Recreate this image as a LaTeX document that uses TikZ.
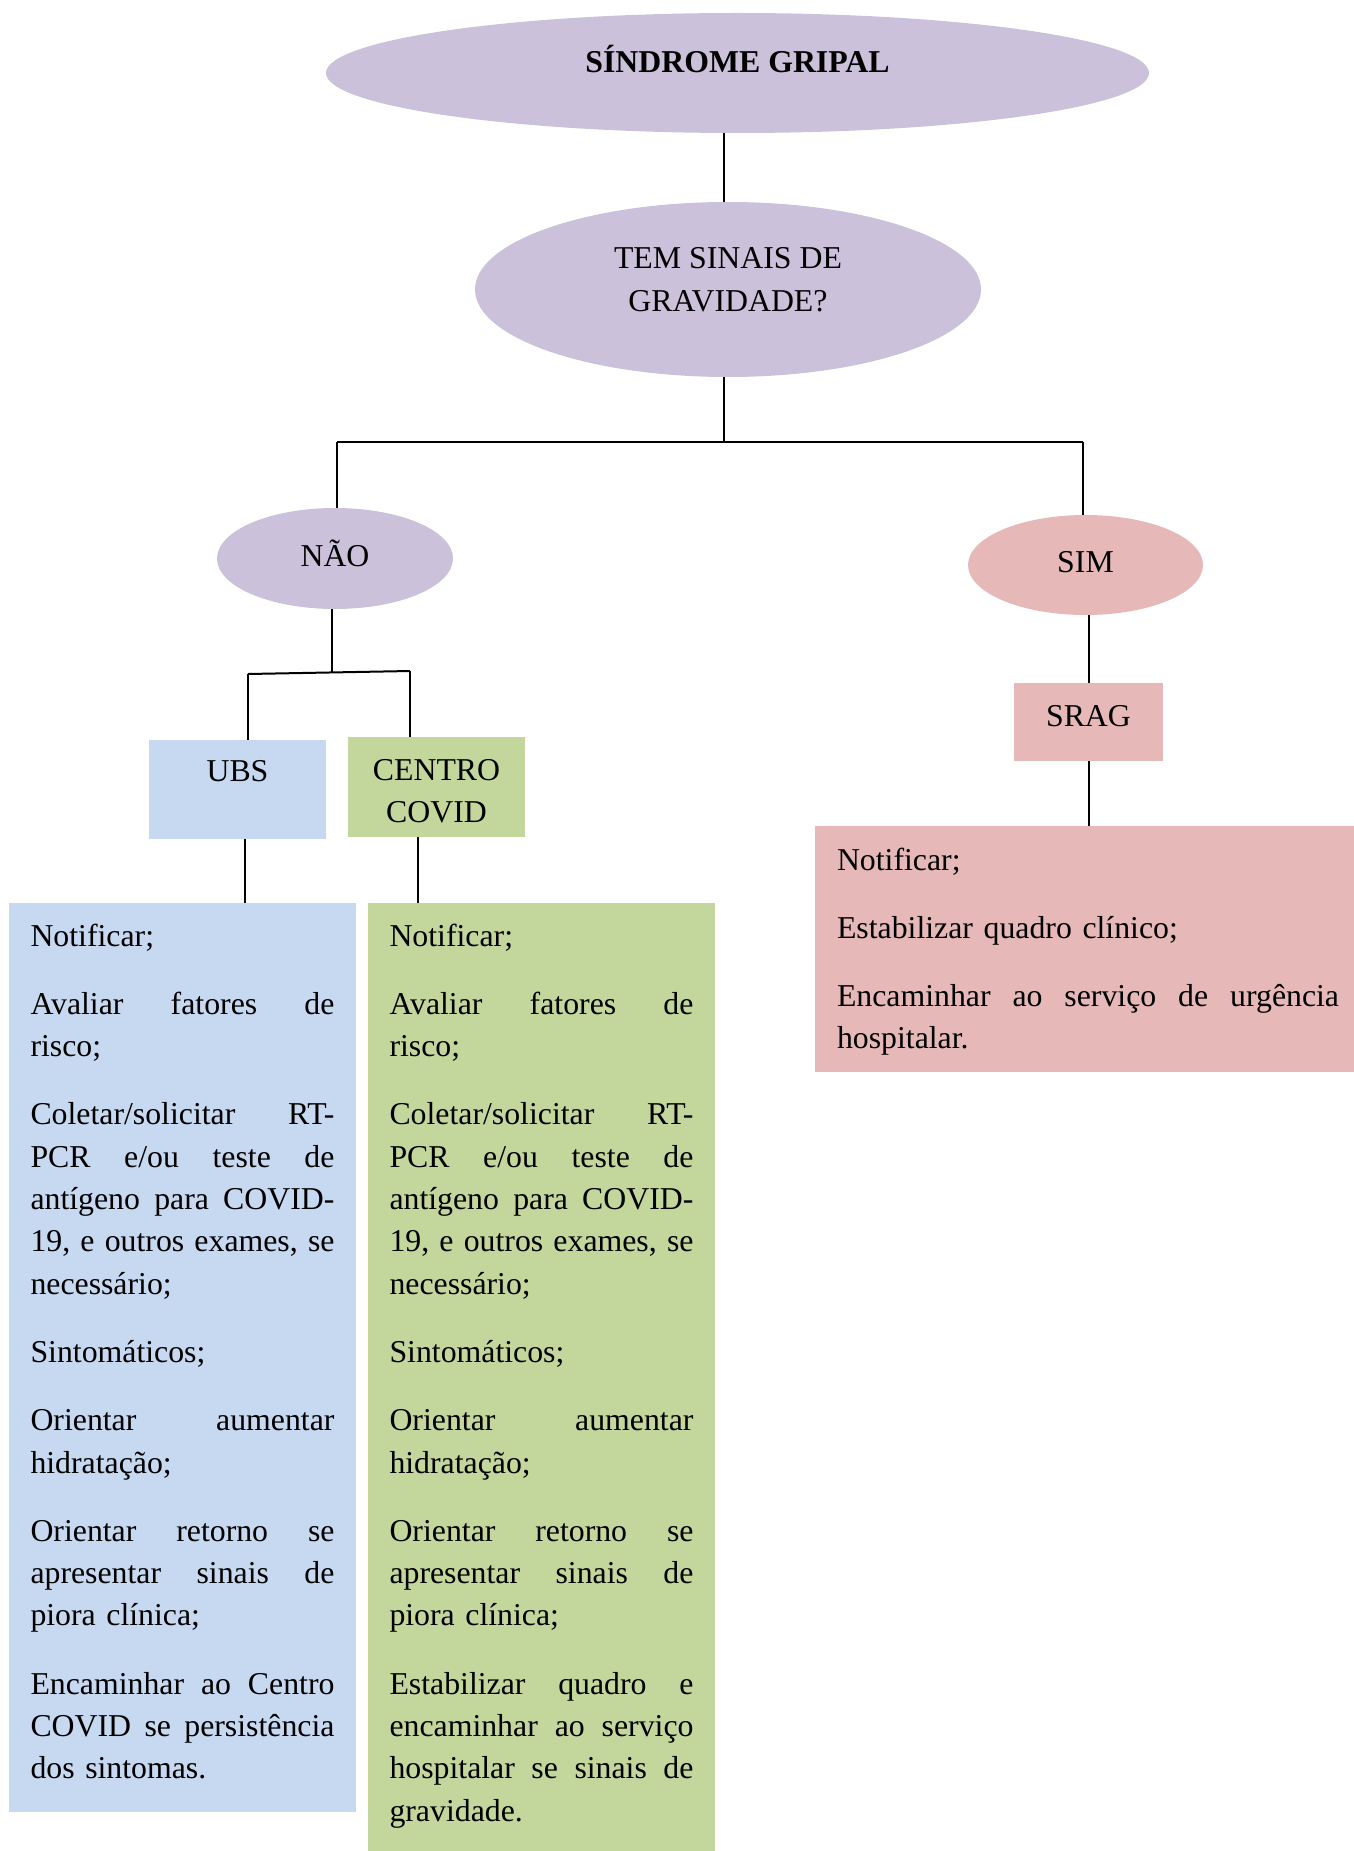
\documentclass[tikz,border=0pt]{standalone}
\usepackage{fontspec}
\setmainfont{Liberation Serif}
\usetikzlibrary{shapes.geometric}
\definecolor{lil}{HTML}{CCC1DA}
\definecolor{rosa}{HTML}{E6B9B8}
\definecolor{azul}{HTML}{C6D9F1}
\definecolor{verde}{HTML}{C3D69B}
\newcommand{\bodyfont}{\fontsize{31.8pt}{42.3pt}\selectfont}
\newlength{\colw}
\setlength{\colw}{304pt}
\newcommand{\jl}[1]{\leavevmode\hbox to\colw{#1}}
\begin{document}
\begin{tikzpicture}[x=1pt,y=-1pt,
  every node/.style={font=\bodyfont, inner sep=0pt, outer sep=0pt},
  elli/.style={ellipse, fill=lil},
  conn/.style={line width=2pt, black},
  bodybox/.style={rectangle, text width=#1, text height=0pt}]
\useasboundingbox (0,0) rectangle (1353,1851);

% shapes
\node[elli, minimum width=823pt, minimum height=120pt, text height=0pt, text depth=0pt, font=\bodyfont\bfseries] (sg) at (737.5,73) {SÍNDROME GRIPAL};
\node[elli, minimum width=506pt, minimum height=175pt, text height=0pt, text depth=41pt] (q) at (728,289.5) {\begin{tabular}[t]{@{}c@{}}TEM SINAIS DE\\GRAVIDADE?\end{tabular}};
\node[elli, minimum width=236pt, minimum height=101pt, text height=15pt, text depth=0pt] (nao) at (335,558.5) {NÃO};
\node[elli, fill=rosa, minimum width=235pt, minimum height=100pt, text height=14pt, text depth=0pt] (sim) at (1085.5,565) {SIM};
\node[fill=azul, minimum width=177pt, minimum height=99pt, text height=0pt, text depth=17pt] (ubs) at (237.5,789.5) {UBS};
\node[fill=verde, minimum width=177pt, minimum height=100pt, text height=0pt, text depth=14pt] (cc) at (436.5,787) {\begin{tabular}[t]{@{}c@{}}CENTRO\\COVID\end{tabular}};
\node[fill=rosa, minimum width=149pt, minimum height=78pt, text height=8pt, text depth=0pt] (srag) at (1088.5,722) {SRAG};

\node[bodybox=304pt, fill=azul, minimum width=347pt, minimum height=909pt, text depth=823pt] (ubsbody) at (182.5,1357.5) {%
Notificar;\\[26pt]
\jl{Avaliar\hfill fatores\hfill de}\\
risco;\\[26pt]
\jl{Coletar/solicitar\hfill RT-}\\
\jl{PCR\hfill e/ou\hfill teste\hfill de}\\
\jl{antígeno\hfill para\hfill COVID-}\\
\jl{19,\hfill e\hfill outros\hfill exames,\hfill se}\\
necessário;\\[26pt]
Sintomáticos;\\[26pt]
\jl{Orientar\hfill aumentar}\\
hidratação;\\[26pt]
\jl{Orientar\hfill retorno\hfill se}\\
\jl{apresentar\hfill sinais\hfill de}\\
piora clínica;\\[26pt]
\jl{Encaminhar\hfill ao\hfill Centro}\\
\jl{COVID\hfill se\hfill persistência}\\
dos sintomas.};

\node[bodybox=304pt, fill=verde, minimum width=347pt, minimum height=951pt, text depth=865pt] (ccbody) at (541.5,1378.5) {%
Notificar;\\[26pt]
\jl{Avaliar\hfill fatores\hfill de}\\
risco;\\[26pt]
\jl{Coletar/solicitar\hfill RT-}\\
\jl{PCR\hfill e/ou\hfill teste\hfill de}\\
\jl{antígeno\hfill para\hfill COVID-}\\
\jl{19,\hfill e\hfill outros\hfill exames,\hfill se}\\
necessário;\\[26pt]
Sintomáticos;\\[26pt]
\jl{Orientar\hfill aumentar}\\
hidratação;\\[26pt]
\jl{Orientar\hfill retorno\hfill se}\\
\jl{apresentar\hfill sinais\hfill de}\\
piora clínica;\\[26pt]
\jl{Estabilizar\hfill quadro\hfill e}\\
\jl{encaminhar\hfill ao\hfill serviço}\\
\jl{hospitalar\hfill se\hfill sinais\hfill de}\\
gravidade.};

\node[bodybox=502pt, fill=rosa, minimum width=546pt, minimum height=246pt, text depth=158pt] (simbody) at (1088,949) {%
Notificar;\\[26pt]
Estabilizar quadro clínico;\\[26pt]
\setlength{\colw}{502pt}\jl{Encaminhar\hfill ao\hfill serviço\hfill de\hfill urgência}\\
hospitalar.};

% connectors
\coordinate (j0) at (724,442);
\coordinate (jl) at (337,442);
\coordinate (jr) at (1083,442);
\coordinate (j2) at (332,673);
\coordinate (j2l) at (248,674);
\coordinate (j2r) at (410,671);
\coordinate (ju) at (245,870);
\coordinate (jc) at (418,870);
\coordinate (js) at (1089,650);

\draw[conn] (j0 |- sg.south) -- (j0 |- q.north);
\draw[conn] (j0 |- q.south) -- (j0);
\draw[conn] (jl) -- (jr);
\draw[conn] (jl) -- (jl |- nao.north);
\draw[conn] (jr) -- (jr |- sim.north);
\draw[conn] (j2 |- nao.south) -- (j2);
\draw[conn] (j2l) -- (j2r);
\draw[conn] (j2l) -- (j2l |- ubs.north);
\draw[conn] (j2r) -- (j2r |- cc.north);
\draw[conn] (ju |- ubs.south) -- (ju |- ubsbody.north);
\draw[conn] (jc |- cc.south) -- (jc |- ccbody.north);
\draw[conn] (js |- sim.south) -- (js |- srag.north);
\draw[conn] (js |- srag.south) -- (js |- simbody.north);
\end{tikzpicture}
\end{document}
